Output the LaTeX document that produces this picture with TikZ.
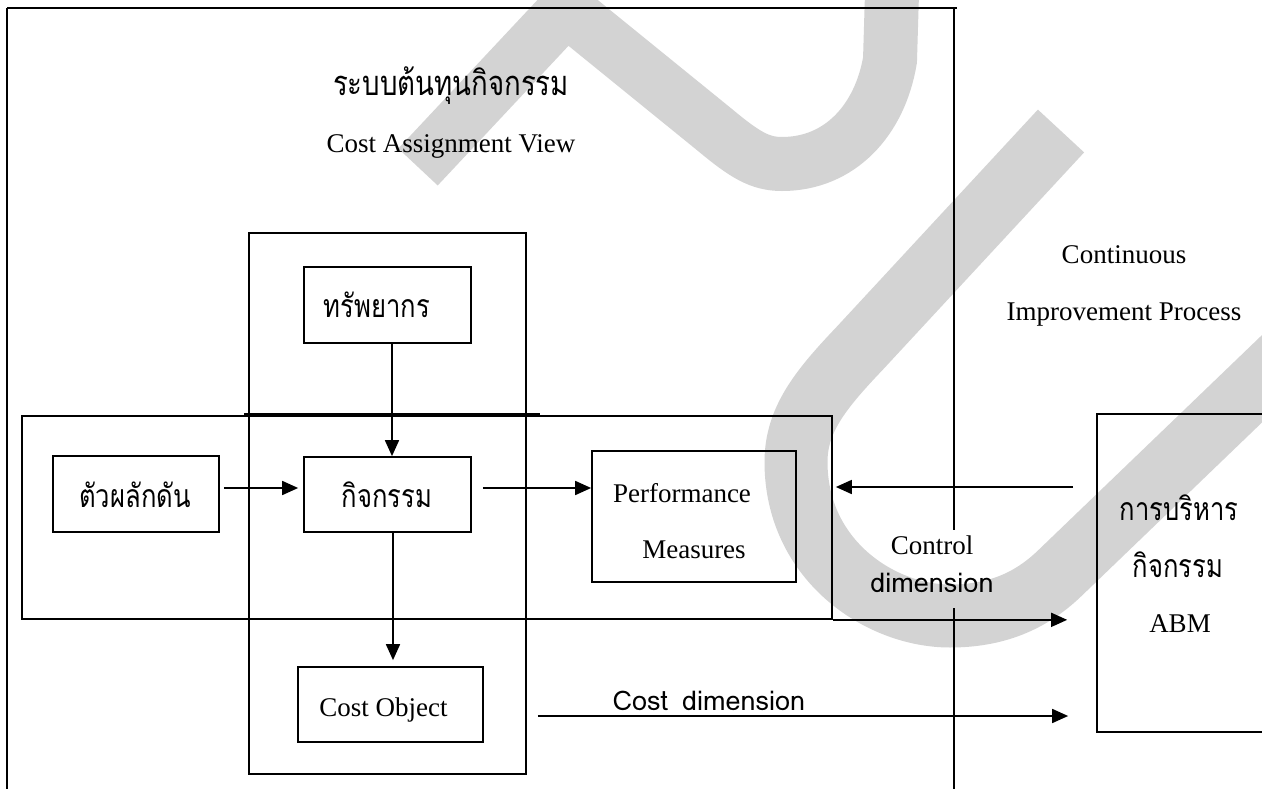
\documentclass[tikz,border=0pt]{standalone}
\usepackage{fontspec}
\setmainfont{Liberation Serif}
\newfontfamily\thaifont[Script=Thai,FakeStretch=0.8]{Loma}
\newfontfamily\lomafont{Loma}
\usetikzlibrary{arrows.meta}
\definecolor{wmgray}{RGB}{211,211,211}
\newcommand\serifL{\fontsize{27pt}{30pt}\selectfont}
\newcommand\thaiL{\thaifont\fontsize{32pt}{36pt}\selectfont}
\newcommand\thaiT{\thaifont\fontsize{34.5pt}{38pt}\selectfont}
\newcommand\sansL{\lomafont\fontsize{27pt}{30pt}\selectfont}
\tikzset{
  box/.style={draw, line width=1.7pt, inner sep=0pt},
  frame/.style={line width=1.7pt},
  lbl/.style={font=\serifL, inner sep=0pt, anchor=base},
  thai/.style={font=\thaiL, inner sep=0pt, anchor=base},
  thaititle/.style={font=\thaiT, inner sep=0pt, anchor=base},
  sans/.style={font=\sansL, inner sep=0pt, anchor=base},
  arr/.style={line width=1.7pt, -{Triangle[length=16pt,width=14pt]}},
  wm/.style={draw=wmgray}
}
\begin{document}
\begin{tikzpicture}[x=1pt,y=-1pt]
\useasboundingbox (0,0) rectangle (1262,789);
\clip (0,0) rectangle (1262,789);
% watermark
\draw[wm, line width=54pt] (418,167) -- (566,9) -- (715,130) .. controls (745,155) and (760,164) .. (782,164) .. controls (840,164) and (880,120) .. (890,60) -- (893,-40);
\draw[wm, line width=63pt] (1061,131) -- (860,348) .. controls (820,390) and (796,420) .. (796,462) .. controls (796,560) and (880,616) .. (950,616) .. controls (995,616) and (1030,602) .. (1060,573) -- (1320,323);
% outer frame
\draw[frame] (7,8) -- (957,8);
\draw[frame] (7,8) -- (7,800);
\draw[frame] (954,8) -- (954,530);
\draw[frame] (954,608) -- (954,800);
% boxes
\node[box, minimum width=277pt, minimum height=541pt] (col) at (387.5,503.5) {};
\node[box, minimum width=810pt, minimum height=203pt] (wide) at (427,517.5) {};
\draw[frame] (244,414) -- (540,414);
\node[box, minimum width=167pt, minimum height=76pt] (res) at (387.5,305) {};
\node[box, minimum width=166pt, minimum height=76pt] (drv) at (136,494) {};
\node[box, minimum width=167pt, minimum height=75pt] (act) at (387.5,494.5) {};
\node[box, minimum width=185pt, minimum height=75pt] (cobj) at (390.5,704.5) {};
\node[box, minimum width=204pt, minimum height=131pt] (perf) at (694,516.5) {};
\node[box, minimum width=200pt, minimum height=318pt] (abm) at (1197,573) {};
% texts
\node[thaititle] (tTitle) at (451,96) {ระบบต้นทุนกิจกรรม};
\node[lbl] (tCAV) at (451,153) {Cost Assignment View};
\node[lbl] (tCont) at (1124,263) {Continuous};
\node[lbl] (tImp) at (1124,320) {Improvement Process};
\node[thai] (tRes) at (377,317) {ทรัพยากร};
\node[thai] (tDrv) at (135,507) {ตัวผลักดัน};
\node[thai] (tAct) at (387,507) {กิจกรรม};
\node[lbl] (tPerf) at (682,502) {Performance};
\node[lbl] (tMeas) at (694,558) {Measures};
\node[lbl] (tCO) at (383.5,716) {Cost Object};
\node[lbl] (tCtrl) at (932,554) {Control};
\node[sans] (tDim) at (932,592) {dimension};
\node[sans] (tCostDim) at (709,710) {Cost\hspace{14pt}dimension};
\node[thai] (tMgmt) at (1179,520) {การบริหาร};
\node[thai] (tAct2) at (1178,577) {กิจกรรม};
\node[lbl] (tABM) at (1180,632) {ABM};
% connectors
\coordinate (pRes) at ([xshift=4.5pt]res.south);
\draw[arr] (pRes) -- (pRes |- act.north);
\coordinate (pDrv) at ([yshift=6pt]drv.east);
\draw[arr, shorten <=4pt, shorten >=5pt] (pDrv) -- (pDrv -| act.west);
\coordinate (pAct) at ([yshift=6.5pt]act.east);
\draw[arr, shorten <=11pt] (pAct) -- (pAct -| perf.west);
\coordinate (pDown) at ([xshift=5.5pt]act.south);
\draw[arr, shorten >=6pt] (pDown) -- (pDown |- cobj.north);
\coordinate (pAbm) at ([yshift=86pt]abm.west);
\draw[arr, shorten <=23pt, shorten >=3pt] (pAbm) -- (pAbm -| wide.east);
\draw[arr, shorten >=29pt] (wide.south east) -- (wide.south east -| abm.west);
\coordinate (pCo) at ([yshift=-11.5pt]cobj.east);
\draw[arr, shorten <=54pt, shorten >=28pt] (pCo) -- (pCo -| abm.west);
\end{tikzpicture}
\end{document}
